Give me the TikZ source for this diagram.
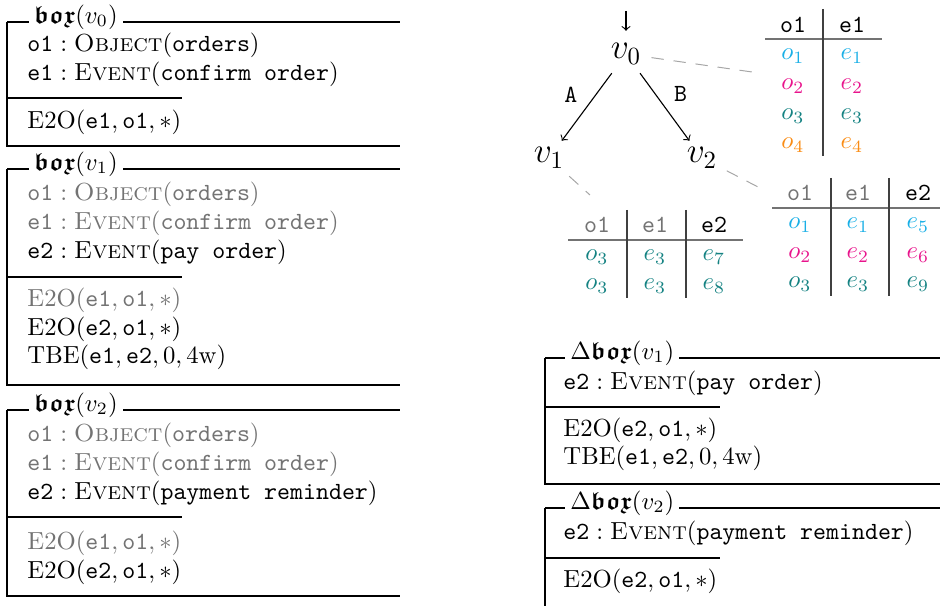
\documentclass[tikz,border=0pt]{standalone}
\usepackage{amssymb}
\usepackage{amsmath}
\usepackage{xcolor}
\definecolor{RowCyan}{RGB}{25, 175, 230}
\definecolor{RowPink}{RGB}{232, 20, 140}
\definecolor{RowTeal}{RGB}{20, 130, 130}
\definecolor{RowOrange}{RGB}{250, 140, 20}
\definecolor{Faded}{RGB}{115, 115, 115}
\newcommand{\bx}{\boldsymbol{\mathfrak{box}}}

\begin{document}
\begin{tikzpicture}[x=0.405pt, y=-0.405pt,
    frame/.style={line width=0.45pt},
    boxtitle/.style={anchor=west, inner xsep=2pt, inner ysep=1pt, fill=white},
    boxline/.style={anchor=west, inner sep=0pt},
    faded/.style={text=Faded},
    hd/.style={font=\ttfamily, inner sep=0pt},
    cell/.style={inner sep=0pt},
    hrule/.style={line width=0.9pt, draw=black!55},
    vrule/.style={line width=0.6pt, draw=black!75},
    link/.style={gray!70, line width=0.4pt, dash pattern=on 5pt off 4pt, shorten <=3pt},
    arr/.style={->, line width=0.45pt},
    vx/.style={font=\Large, inner sep=1pt},
]
\useasboundingbox (0,0) rectangle (940,606);

\draw[frame] (7,22) -- (400,22);
\draw[frame] (7,22) -- (7,146) -- (400,146);
\draw[frame] (7,98) -- (182,98);
\node[boxtitle] (t0) at (29,17) {$\bx(v_0)$};
\node[boxline] (b0l1) at (27,45) {$\texttt{o1}:\textsc{Object}(\texttt{orders})$};
\node[boxline] (b0l2) at (27,74) {$\texttt{e1}:\textsc{Event}(\texttt{confirm order})$};
\node[boxline] (b0c1) at (27,122) {$\mathrm{E2O}(\texttt{e1},\texttt{o1},*)$};

\draw[frame] (7,169) -- (400,169);
\draw[frame] (7,169) -- (7,385) -- (400,385);
\draw[frame] (7,277) -- (182,277);
\node[boxtitle] (t1) at (29,164) {$\bx(v_1)$};
\node[boxline, faded] (b1l1) at (27,194) {$\texttt{o1}:\textsc{Object}(\texttt{orders})$};
\node[boxline, faded] (b1l2) at (27,223) {$\texttt{e1}:\textsc{Event}(\texttt{confirm order})$};
\node[boxline] (b1l3) at (27,252) {$\texttt{e2}:\textsc{Event}(\texttt{pay order})$};
\node[boxline, faded] (b1c1) at (27,300) {$\mathrm{E2O}(\texttt{e1},\texttt{o1},*)$};
\node[boxline] (b1c2) at (27,329) {$\mathrm{E2O}(\texttt{e2},\texttt{o1},*)$};
\node[boxline] (b1c3) at (27,357) {$\mathrm{TBE}(\texttt{e1},\texttt{e2},0,4\mathrm{w})$};

\draw[frame] (7,410) -- (400,410);
\draw[frame] (7,410) -- (7,596) -- (400,596);
\draw[frame] (7,517) -- (182,517);
\node[boxtitle] (t2) at (29,405) {$\bx(v_2)$};
\node[boxline, faded] (b2l1) at (27,435) {$\texttt{o1}:\textsc{Object}(\texttt{orders})$};
\node[boxline, faded] (b2l2) at (27,464) {$\texttt{e1}:\textsc{Event}(\texttt{confirm order})$};
\node[boxline] (b2l3) at (27,493) {$\texttt{e2}:\textsc{Event}(\texttt{payment reminder})$};
\node[boxline, faded] (b2c1) at (27,543) {$\mathrm{E2O}(\texttt{e1},\texttt{o1},*)$};
\node[boxline] (b2c2) at (27,572) {$\mathrm{E2O}(\texttt{e2},\texttt{o1},*)$};

\coordinate (start) at (626,11);
\node[vx] (v0) at (626,54) {$v_0$};
\node[vx] (v1) at (549,158) {$v_1$};
\node[vx] (v2) at (702,158) {$v_2$};
\draw[arr, shorten >=4pt] (start) -- (v0);
\draw[arr, shorten <=3pt, shorten >=2pt] (v0) -- node[pos=0.35, left=4pt, font=\ttfamily] (la) {A} (v1);
\draw[arr, shorten <=3pt, shorten >=2pt] (v0) -- node[pos=0.35, right=4pt, font=\ttfamily] (lb) {B} (v2);

\coordinate (tab0) at (752,72);
\coordinate (tab1) at (590,195);
\coordinate (tab2) at (760,188);
\draw[link] (v0) -- (tab0);
\draw[link] (v1) -- (tab1);
\draw[link] (v2) -- (tab2);

\draw[hrule] (765,39) -- (882,39);
\draw[vrule] (823,9) -- (823,156);
\node[hd] (a0h1) at (793,25) {o1};
\node[hd] (a0h2) at (852,25) {e1};
\node[cell, RowCyan] (a0o1) at (793,56) {$o_1$};
\node[cell, RowCyan] (a0e1) at (852,56) {$e_1$};
\node[cell, RowPink] (a0o2) at (793,86) {$o_2$};
\node[cell, RowPink] (a0e2) at (852,86) {$e_2$};
\node[cell, RowTeal] (a0o3) at (793,116) {$o_3$};
\node[cell, RowTeal] (a0e3) at (852,116) {$e_3$};
\node[cell, RowOrange] (a0o4) at (793,145) {$o_4$};
\node[cell, RowOrange] (a0e4) at (852,145) {$e_4$};

\draw[hrule] (568,240) -- (743,240);
\draw[vrule] (627,210) -- (627,298);
\draw[vrule] (686,210) -- (686,298);
\node[hd, faded] (a1h1) at (597,225) {o1};
\node[hd, faded] (a1h2) at (655,225) {e1};
\node[hd] (a1h3) at (714,225) {e2};
\node[cell, RowTeal] (a1o1) at (597,257) {$o_3$};
\node[cell, RowTeal] (a1e1) at (655,257) {$e_3$};
\node[cell, RowTeal] (a1f1) at (714,257) {$e_7$};
\node[cell, RowTeal] (a1o2) at (597,286) {$o_3$};
\node[cell, RowTeal] (a1e2) at (655,286) {$e_3$};
\node[cell, RowTeal] (a1f2) at (714,286) {$e_8$};

\draw[hrule] (772,208) -- (940,208);
\draw[vrule] (831,178) -- (831,296);
\draw[vrule] (889,178) -- (889,296);
\node[hd, faded] (a2h1) at (800,193) {o1};
\node[hd, faded] (a2h2) at (858,193) {e1};
\node[hd] (a2h3) at (918,193) {e2};
\node[cell, RowCyan] (a2o1) at (800,225) {$o_1$};
\node[cell, RowCyan] (a2e1) at (858,225) {$e_1$};
\node[cell, RowCyan] (a2f1) at (918,225) {$e_5$};
\node[cell, RowPink] (a2o2) at (800,255) {$o_2$};
\node[cell, RowPink] (a2e2) at (858,255) {$e_2$};
\node[cell, RowPink] (a2f2) at (918,255) {$e_6$};
\node[cell, RowTeal] (a2o3) at (800,284) {$o_3$};
\node[cell, RowTeal] (a2e3) at (858,284) {$e_3$};
\node[cell, RowTeal] (a2f3) at (918,284) {$e_9$};

\draw[frame] (545,358) -- (940,358);
\draw[frame] (545,358) -- (545,484) -- (940,484);
\draw[frame] (545,407) -- (720,407);
\node[boxtitle] (d1) at (565,353) {$\Delta\bx(v_1)$};
\node[boxline] (d1l1) at (563,383) {$\texttt{e2}:\textsc{Event}(\texttt{pay order})$};
\node[boxline] (d1c1) at (563,430) {$\mathrm{E2O}(\texttt{e2},\texttt{o1},*)$};
\node[boxline] (d1c2) at (563,458) {$\mathrm{TBE}(\texttt{e1},\texttt{e2},0,4\mathrm{w})$};

\draw[frame] (545,508) -- (940,508);
\draw[frame] (545,508) -- (545,606);
\draw[frame] (545,558) -- (720,558);
\node[boxtitle] (d2) at (565,503) {$\Delta\bx(v_2)$};
\node[boxline] (d2l1) at (563,533) {$\texttt{e2}:\textsc{Event}(\texttt{payment reminder})$};
\node[boxline] (d2c1) at (563,581) {$\mathrm{E2O}(\texttt{e2},\texttt{o1},*)$};
\end{tikzpicture}
\end{document}
